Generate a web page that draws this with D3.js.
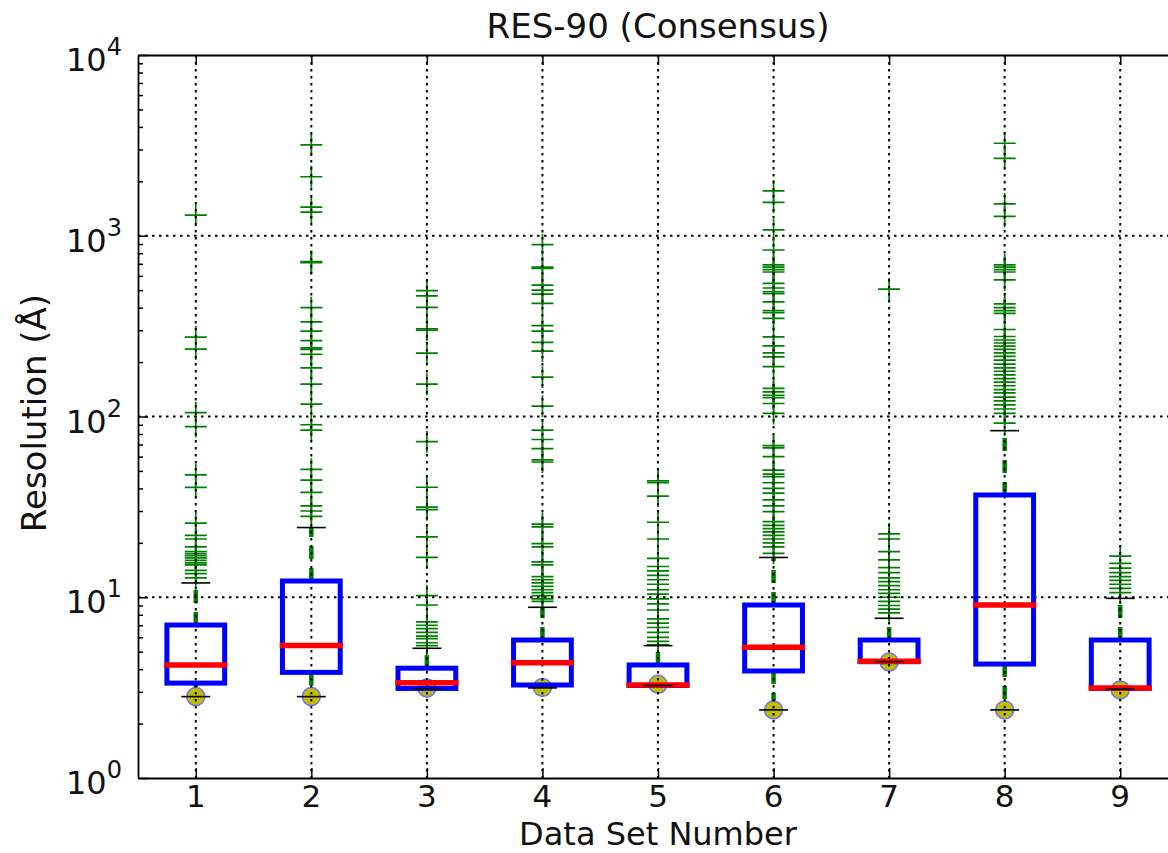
<!DOCTYPE html>
<html>
<head>
<meta charset="utf-8">
<script src="https://cdnjs.cloudflare.com/ajax/libs/d3/7.8.5/d3.min.js"></script>
<style>
body { margin: 0; background: #fff; }
text { font-family: "DejaVu Sans", sans-serif; fill: #111; }
</style>
</head>
<body>
<div id="chart"></div>
<script>
// data (resolution in Angstrom, log axis)
var setNumbers = [1, 2, 3, 4, 5, 6, 7, 8, 9];
var q1         = [3.35, 3.84, 3.13, 3.27, 3.25, 3.91, 4.40, 4.27, 3.13];
var medians    = [4.22, 5.40, 3.37, 4.34, 3.27, 5.29, 4.42, 9.06, 3.15];
var q3         = [7.02, 12.3, 4.05, 5.80, 4.22, 9.06, 5.80, 36.8, 5.80];
var whiskLow   = [2.82, 2.82, 3.12, 3.15, 3.25, 2.38, 4.40, 2.38, 3.10];
var whiskHigh  = [12.0, 24.3, 5.22, 8.80, 5.40, 16.6, 7.65, 83.5, 9.86];
var minMarks   = [2.82, 2.82, 3.15, 3.17, 3.30, 2.38, 4.38, 2.38, 3.07];
var fliers = [
  [1300, 275, 236, 105, 88, 47.5, 40.5, 25.7, 22, 21, 19, 17.9, 17.4, 17, 16.5, 16, 15.5, 15.1, 14.1, 13.5, 12.8],
  [3180, 2120, 1440, 1350, 720, 710, 400, 334, 297, 263, 240, 235, 221, 186, 151, 117, 90, 84, 51, 44.5, 38, 32, 30, 28],
  [497, 465, 402, 305, 300, 224, 151, 72.6, 40.6, 31.5, 30.5, 21.6, 16.6, 10.2, 9.06, 7.3, 7.0, 6.7, 6.4, 6.1, 5.9, 5.6, 5.4],
  [893, 670, 660, 533, 500, 475, 423, 318, 297, 257, 230, 165, 114, 84, 74.6, 66.5, 57.5, 56, 25.4, 24.5, 19.8, 19, 15.7, 15.1, 13, 12.5, 12, 11.5, 11, 10.6, 10.2, 9.8, 9.5],
  [44, 43, 36.3, 26, 21, 16.4, 14.8, 14, 13.2, 12.5, 11.8, 11, 10.4, 9.8, 9.2, 8.5, 7.6, 7.2, 6.8, 6.4, 6.0, 5.7, 5.45],
  [1770, 1530, 1077, 834, 690, 670, 650, 630, 545, 514, 490, 478, 431, 385, 375, 349, 276, 246, 225, 214, 189, 143, 137, 131, 127, 118, 104, 69, 67, 60, 50.5, 48, 46.5, 43, 40, 37.7, 34.6, 32, 29.8, 26.2, 25, 24, 23, 22, 21, 20, 19, 17.5],
  [507, 22.4, 21, 17.9, 16.1, 14.6, 13.7, 12.8, 12.2, 11.6, 11, 10.5, 10, 9.5, 9, 8.6, 8.2],
  [3250, 2680, 1500, 1280, 690, 670, 650, 630, 570, 420, 400, 385, 372, 303, 277, 265, 255, 245, 235, 225, 215, 205, 195, 186, 178, 170, 162, 155, 148, 141, 135, 128, 122, 116, 110, 104, 92],
  [16.9, 15.4, 14.5, 13.7, 13, 12.4, 11.8, 11.2, 10.6]
];
var majorTicks = [1, 10, 100, 1000, 10000];
var exponents  = ["0", "1", "2", "3", "4"];
var titleText  = "RES-90 (Consensus)";
var xLabel     = "Data Set Number";
var yLabel     = "Resolution (Å)";

var svgW = 1168, svgH = 853;
var margin = {top: 55, left: 138, bottom: 75};
var plotRight = 1178;          // right side runs past the picture edge
var bottom = svgH - margin.bottom;

var boxes = setNumbers.map(function(n, i) {
  return {n: n, q1: q1[i], med: medians[i], q3: q3[i], lo: whiskLow[i], hi: whiskHigh[i], mk: minMarks[i], fl: fliers[i]};
});

var svg = d3.select("#chart").append("svg")
  .attr("width", svgW)
  .attr("height", svgH);

var x = d3.scaleLinear().domain([0.5, 9.5]).range([margin.left, plotRight]);
var y = d3.scaleLog().domain([1, 10000]).range([bottom, margin.top]);
var unit = x(2) - x(1);
var boxW = unit * 0.5, capW = unit * 0.25;

// fliers
var fl = svg.append("g");
boxes.forEach(function(b) {
  fl.selectAll(null).data(b.fl).enter().append("path")
    .attr("transform", function(d) { return "translate(" + x(b.n) + "," + y(d) + ")"; })
    .attr("d", "M-11,0H11M0,-11V11")
    .attr("stroke", "#008000")
    .attr("stroke-width", 1.7)
    .attr("fill", "none");
});

// whiskers
var wh = svg.append("g");
boxes.forEach(function(b) {
  [[b.q3, b.hi], [b.q1, b.lo]].forEach(function(p) {
    wh.append("line")
      .attr("x1", x(b.n)).attr("x2", x(b.n))
      .attr("y1", y(p[0])).attr("y2", y(p[1]))
      .attr("stroke", "#008000")
      .attr("stroke-width", 4.5)
      .attr("stroke-dasharray", "13,9");
  });
});

// yellow markers at the minimum
svg.append("g").selectAll("circle").data(boxes).enter().append("circle")
  .attr("cx", function(d) { return x(d.n); })
  .attr("cy", function(d) { return y(d.mk); })
  .attr("r", 9)
  .attr("fill", "#bfbf00")
  .attr("stroke", "#6f6fff")
  .attr("stroke-width", 1.5);

// grid
var grid = svg.append("g")
  .attr("stroke", "#000")
  .attr("stroke-width", 2)
  .attr("stroke-dasharray", "2.5,4.5");
grid.selectAll(".gx").data(setNumbers).enter().append("line")
  .attr("x1", function(d) { return x(d); }).attr("x2", function(d) { return x(d); })
  .attr("y1", margin.top).attr("y2", bottom);
grid.selectAll(".gy").data(majorTicks.slice(1, 4)).enter().append("line")
  .attr("x1", margin.left).attr("x2", plotRight)
  .attr("y1", function(d) { return y(d); }).attr("y2", function(d) { return y(d); });

// boxes
svg.append("g").selectAll("rect").data(boxes).enter().append("rect")
  .attr("x", function(d) { return x(d.n) - boxW / 2; })
  .attr("y", function(d) { return y(d.q3); })
  .attr("width", boxW)
  .attr("height", function(d) { return y(d.q1) - y(d.q3); })
  .attr("fill", "none")
  .attr("stroke", "#0000ff")
  .attr("stroke-width", 5);

// medians
svg.append("g").selectAll("line").data(boxes).enter().append("line")
  .attr("x1", function(d) { return x(d.n) - boxW / 2; })
  .attr("x2", function(d) { return x(d.n) + boxW / 2; })
  .attr("y1", function(d) { return y(d.med); })
  .attr("y2", function(d) { return y(d.med); })
  .attr("stroke", "#ff0000")
  .attr("stroke-width", 5.5)
  .attr("stroke-linecap", "square");

// caps
var caps = svg.append("g").attr("stroke", "#000").attr("stroke-width", 1.6);
boxes.forEach(function(b) {
  [b.lo, b.hi].forEach(function(v) {
    caps.append("line")
      .attr("x1", x(b.n) - capW / 2).attr("x2", x(b.n) + capW / 2)
      .attr("y1", y(v)).attr("y2", y(v));
  });
});

// axes (ticks point inward)
svg.append("g")
  .attr("transform", "translate(" + margin.left + ",0)")
  .call(d3.axisLeft(y).tickValues(majorTicks).tickSizeInner(-10).tickSizeOuter(0).tickFormat(""));
var minor = [];
majorTicks.slice(0, 4).forEach(function(m) {
  for (var k = 2; k < 10; k++) minor.push(m * k);
});
svg.append("g")
  .attr("transform", "translate(" + margin.left + ",0)")
  .call(d3.axisLeft(y).tickValues(minor).tickSizeInner(-5).tickSizeOuter(0).tickFormat(""))
  .select(".domain").remove();
svg.append("g")
  .attr("transform", "translate(0," + bottom + ")")
  .call(d3.axisBottom(x).tickValues(setNumbers).tickSizeInner(-10).tickSizeOuter(0).tickFormat(""));
svg.append("g")
  .attr("transform", "translate(0," + margin.top + ")")
  .call(d3.axisTop(x).tickValues(setNumbers).tickSizeInner(-10).tickSizeOuter(0).tickFormat(""));
svg.selectAll(".domain").attr("stroke-width", 1.8);
svg.selectAll(".tick line").attr("stroke-width", 1.5);

// tick labels
svg.append("g").selectAll("text").data(setNumbers).enter().append("text")
  .attr("x", function(d) { return x(d); })
  .attr("y", bottom + 29)
  .attr("text-anchor", "middle")
  .style("font-size", "31px")
  .text(function(d) { return d; });

var yl = svg.append("g").selectAll("text").data(majorTicks).enter().append("text")
  .attr("x", 122)
  .attr("y", function(d) { return y(d) + 16; })
  .attr("text-anchor", "end")
  .style("font-size", "32px");
yl.append("tspan").text("10");
yl.append("tspan")
  .attr("dy", -16)
  .style("font-size", "24px")
  .text(function(d, i) { return exponents[i]; });

// title and axis labels
svg.append("text")
  .attr("x", (margin.left + plotRight) / 2)
  .attr("y", 38)
  .attr("text-anchor", "middle")
  .style("font-size", "34px")
  .text(titleText);
svg.append("text")
  .attr("x", (margin.left + plotRight) / 2)
  .attr("y", 845)
  .attr("text-anchor", "middle")
  .style("font-size", "32px")
  .text(xLabel);
svg.append("text")
  .attr("transform", "translate(46," + 413 + ") rotate(-90)")
  .attr("text-anchor", "middle")
  .style("font-size", "34px")
  .text(yLabel);
</script>
</body>
</html>
